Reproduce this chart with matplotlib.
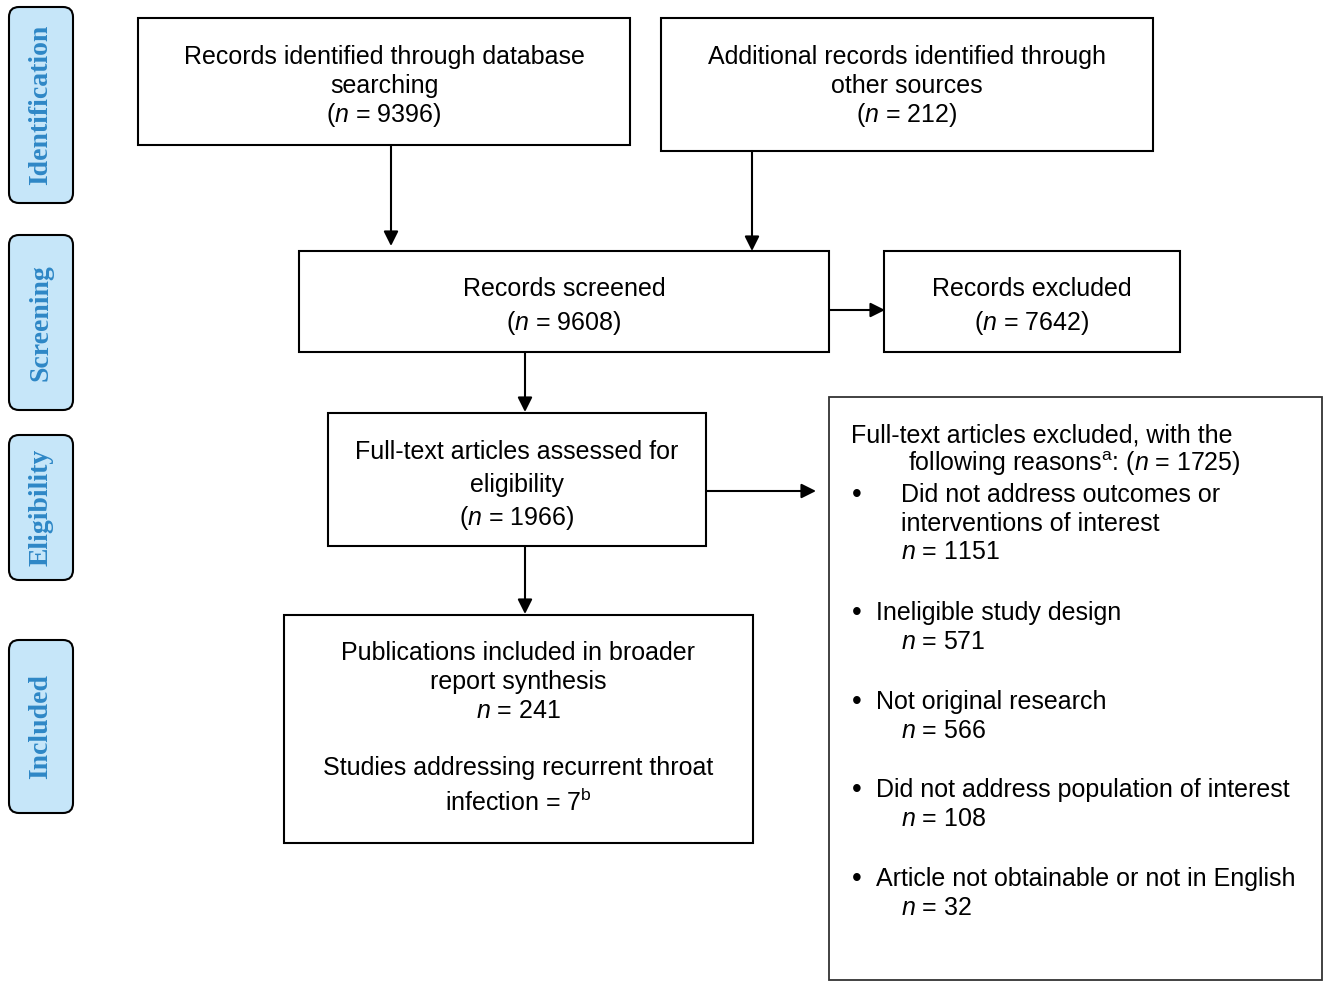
import matplotlib
matplotlib.use('Agg')
import matplotlib.pyplot as plt
from matplotlib.patches import Rectangle, FancyBboxPatch

plt.rcParams['font.family'] = ['Liberation Sans', 'DejaVu Sans']
plt.rcParams['mathtext.fontset'] = 'custom'
plt.rcParams['mathtext.rm'] = 'Liberation Sans'
plt.rcParams['mathtext.it'] = 'Liberation Sans:italic'

# ── Contenu ───────────────────────────────────────────────
stages = ['Identification', 'Screening', 'Eligibility', 'Included']

n_database = 9396
n_other = 212
n_screened = 9608
n_excluded = 7642
n_fulltext = 1966
n_fulltext_excl = 1725
n_included = 241
n_rti = 7

reasons = [
    ('Did not address outcomes or\ninterventions of interest', 1151),
    ('Ineligible study design', 571),
    ('Not original research', 566),
    ('Did not address population of interest', 108),
    ('Article not obtainable or not in English', 32),
]

W, H = 1323, 981
fig = plt.figure(figsize=(W / 100, H / 100), dpi=100)
ax = fig.add_axes([0, 0, 1, 1])
ax.set_xlim(0, W)
ax.set_ylim(H, 0)
ax.axis('off')

FS = 18
LW = 1.5
DY = 2  # petit décalage vertical du texte


def box(x0, y0, x1, y1, lw=LW, ec='black'):
    ax.add_patch(Rectangle((x0, y0), x1 - x0, y1 - y0, fill=False,
                           ec=ec, lw=lw))


def arrow(x0, y0, x1, y1):
    ax.annotate('', xy=(x1, y1), xytext=(x0, y0),
                arrowprops=dict(arrowstyle='-|>', color='black', lw=1.5,
                                mutation_scale=22, shrinkA=0, shrinkB=0))


def txt(x, y, t, ha='left', fs=FS):
    ax.text(x, y + DY, t, ha=ha, va='center', fontsize=fs)


def lines(xc, ys, texts):
    for y, t in zip(ys, texts):
        txt(xc, y, t, ha='center')


# ── Bandeaux latéraux ─────────────────────────────────────
side_pos = [(7, 203), (235, 410), (435, 580), (640, 813)]
for name, (y0, y1) in zip(stages, side_pos):
    ax.add_patch(FancyBboxPatch((9, y0), 64, y1 - y0,
                                boxstyle='round,pad=0,rounding_size=10',
                                fc='#c6e6f9', ec='black', lw=1.5))
    ax.text(41, (y0 + y1) / 2, name, rotation=90, ha='center', va='center',
            fontsize=20, fontweight='bold', color='#2e87c6',
            family=['Liberation Serif', 'DejaVu Serif'])

# ── Identification ────────────────────────────────────────
box(138, 18, 630, 145)
lines(384, [55, 84, 113], ['Records identified through database',
                           'searching', f'($n$ = {n_database})'])
box(661, 18, 1153, 151)
lines(907, [55, 84, 113], ['Additional records identified through',
                           'other sources', f'($n$ = {n_other})'])
arrow(391, 145, 391, 246)
arrow(752, 151, 752, 251)

# ── Screening ─────────────────────────────────────────────
box(299, 251, 829, 352)
lines(564, [287, 321], ['Records screened', f'($n$ = {n_screened})'])
box(884, 251, 1180, 352)
lines(1032, [287, 321], ['Records excluded', f'($n$ = {n_excluded})'])
arrow(829, 310, 885, 310)
arrow(525, 352, 525, 412)

# ── Eligibility ───────────────────────────────────────────
box(328, 413, 706, 546)
lines(517, [450, 483, 516], ['Full-text articles assessed for',
                             'eligibility', f'($n$ = {n_fulltext})'])
arrow(706, 491, 816, 491)

box(829, 397, 1322, 980, lw=1.3, ec='#333333')
txt(851, 433, 'Full-text articles excluded, with the')
txt(908, 462, f'following reasons$^{{\\mathrm{{a}}}}$: ($n$ = {n_fulltext_excl})')

# premier motif : texte plus indenté
y = 493
txt(857, y, '•', ha='center', fs=FS + 2)
label0, n0 = reasons[0]
for k, part in enumerate(label0.split('\n')):
    txt(901, y + 29 * k, part)
txt(901, y + 57, f'$n$ = {n0}')

ys = [611, 700, 788, 877]
for y, (label, n) in zip(ys, reasons[1:]):
    txt(857, y, '•', ha='center', fs=FS + 2)
    txt(876, y, label)
    txt(901, y + 29, f'$n$ = {n}')

# ── Included ──────────────────────────────────────────────
arrow(525, 546, 525, 614)
box(284, 615, 753, 843)
lines(518, [651, 680, 709, 766, 800],
      ['Publications included in broader', 'report synthesis',
       f'$n$ = {n_included}', 'Studies addressing recurrent throat',
       f'infection = {n_rti}$^{{\\mathrm{{b}}}}$'])

plt.savefig('out.png', dpi=100)
plt.close()
